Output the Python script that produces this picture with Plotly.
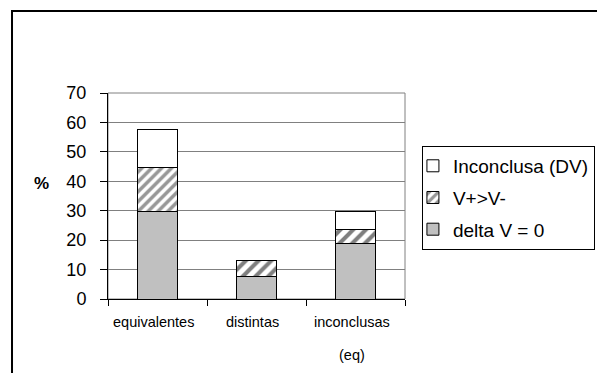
import plotly.graph_objects as go

categories = ["equivalentes", "distintas", "inconclusas (eq)"]
category_label_lines = [["equivalentes"], ["distintas"], ["inconclusas", "(eq)"]]
delta_v_zero = [29.7, 7.6, 18.7]
v_plus_gt_v_minus = [15.1, 5.6, 5.0]
inconclusa_dv = [12.7, None, 6.0]
y_ticks = [0, 10, 20, 30, 40, 50, 60, 70]

FONT = "Arial, Liberation Sans, sans-serif"

fig = go.Figure()
fig.add_trace(go.Bar(
    x=categories, y=delta_v_zero, name="delta V = 0", legendgroup="c",
    legendrank=3,
    marker=dict(color="#C0C0C0", line=dict(color="black", width=1)),
))
fig.add_trace(go.Bar(
    x=categories, y=v_plus_gt_v_minus, name="V+>V-", legendgroup="b",
    legendrank=2,
    marker=dict(color="white", line=dict(color="black", width=1),
                pattern=dict(shape="/", fgcolor=["#303030", "black", "black"],
                             bgcolor="white", size=[7, 9, 9],
                             solidity=[0.5, 0.45, 0.45])),
))
fig.add_trace(go.Bar(
    x=categories, y=inconclusa_dv, name="Inconclusa (DV)", legendgroup="a",
    legendrank=1,
    marker=dict(color="white", line=dict(color="black", width=1)),
))

annotations = []
for cat, lines in zip(categories, category_label_lines):
    for i, line in enumerate(lines):
        annotations.append(dict(
            x=cat, xref="x", y=-0.110 - 0.162 * i, yref="paper",
            text=line, showarrow=False, xanchor="center", yanchor="middle",
            xshift=-4, font=dict(family=FONT, size=14.5, color="black"),
        ))
annotations.append(dict(
    x=-0.223, xref="paper", y=0.563, yref="paper", text="<b>%</b>",
    showarrow=False, xanchor="center", yanchor="middle",
    font=dict(family=FONT, size=17, color="black"),
))

shapes = [
    dict(type="rect", xref="paper", yref="paper", x0=0, x1=1, y0=0, y1=1,
         line=dict(color="#808080", width=1), layer="below"),
    dict(type="rect", xref="paper", yref="paper", x0=-0.3232, x1=2.0,
         y0=-1.0, y1=1.398, line=dict(color="black", width=2), layer="below"),
]

fig.update_layout(
    width=597, height=365,
    margin=dict(l=100, r=200, t=85, b=74, autoexpand=False),
    paper_bgcolor="white", plot_bgcolor="white",
    barmode="stack", bargap=0.6,
    font=dict(family=FONT, color="black"),
    showlegend=True,
    legend=dict(
        x=1.057, y=0.743, xanchor="left", yanchor="top",
        traceorder="grouped", tracegroupgap=4, indentation=-10,
        bordercolor="black", borderwidth=1, bgcolor="white",
        font=dict(family=FONT, size=19, color="black"),
        itemwidth=30,
    ),
    xaxis=dict(
        type="category", range=[-0.5, 2.5], showticklabels=False,
        ticks="outside", tickson="boundaries", ticklen=6, tickcolor="black",
        showline=True, linecolor="black", linewidth=1, showgrid=False,
        fixedrange=True, automargin=False,
    ),
    yaxis=dict(
        range=[0, 70], tickvals=y_ticks, ticks="outside", ticklen=7,
        tickcolor="black", showline=True, linecolor="black", linewidth=1,
        showgrid=True, gridcolor="#808080", gridwidth=1, zeroline=False,
        tickfont=dict(family=FONT, size=18, color="black"),
        ticklabelstandoff=10, automargin=False,
    ),
    annotations=annotations,
    shapes=shapes,
)

fig.write_html("out.html")
